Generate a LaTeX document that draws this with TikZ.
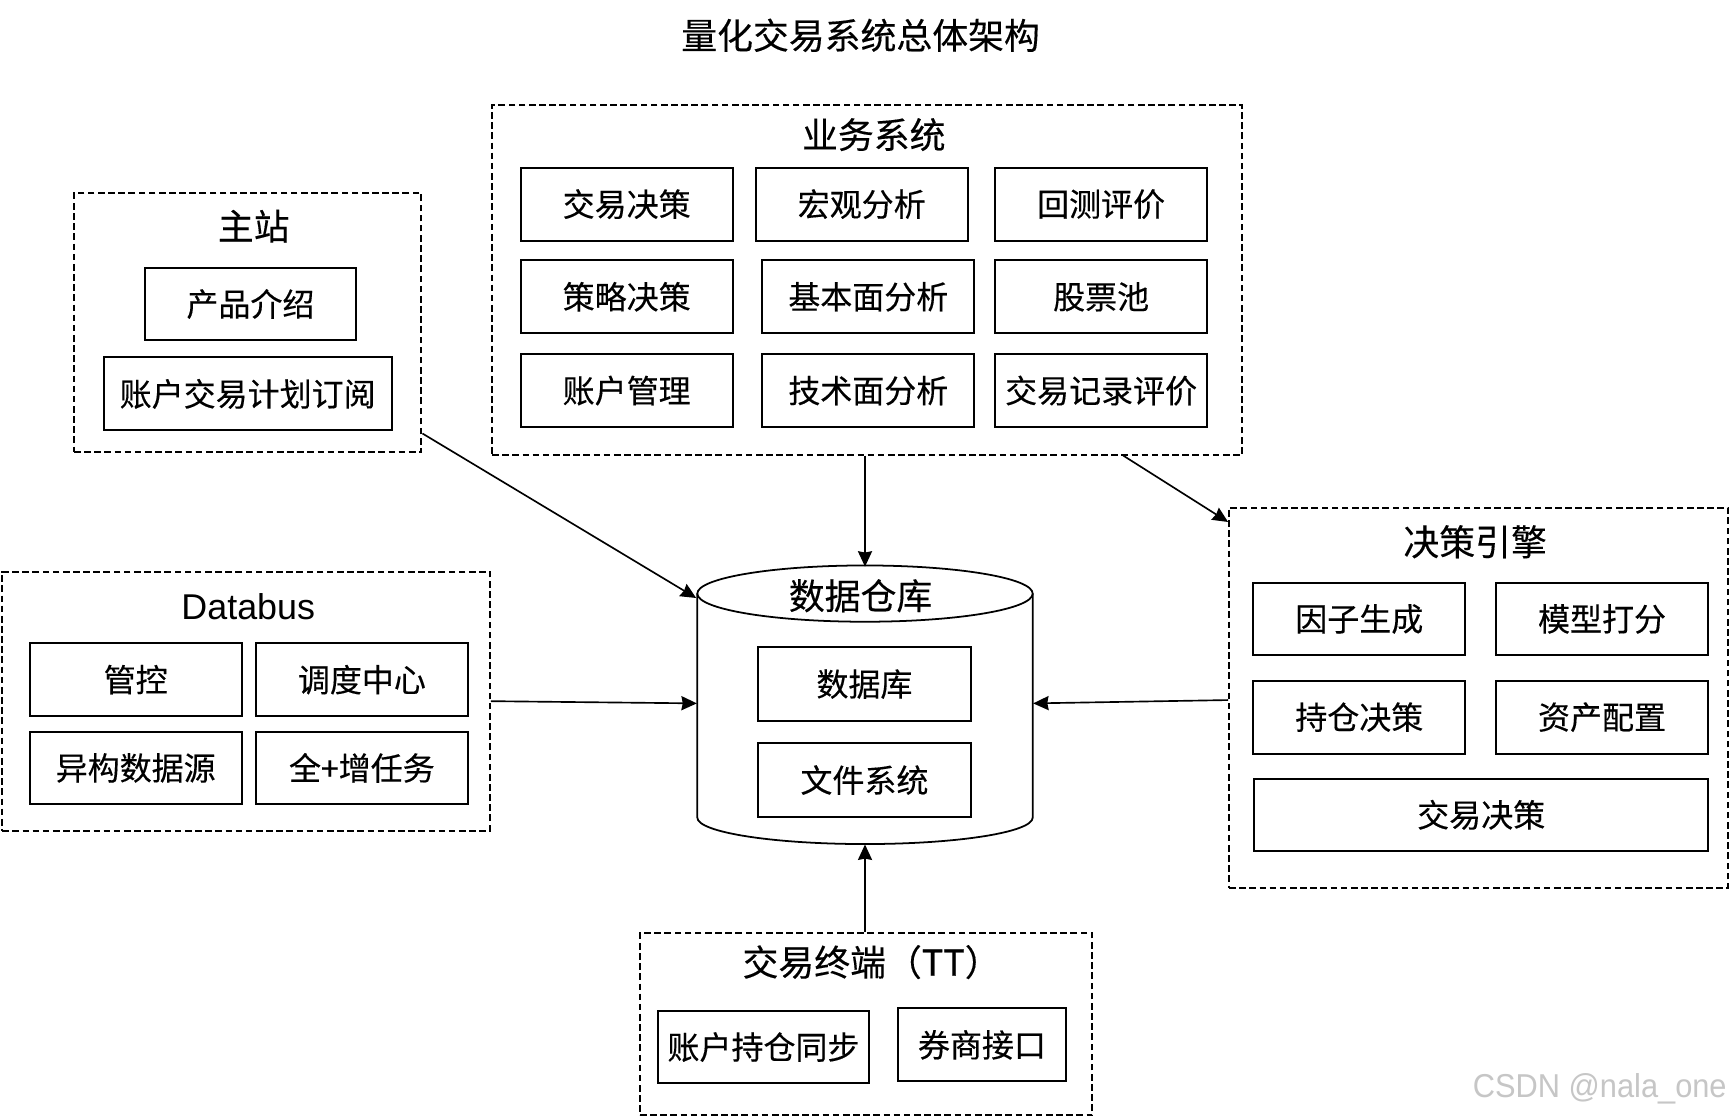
\documentclass[tikz,border=0pt]{standalone}
\usepackage{fontspec}
\setmainfont{Noto Sans CJK SC}[FakeBold=0.3]
\newfontfamily\latinfont{Liberation Sans}
\usetikzlibrary{arrows.meta,calc}

\begin{document}
\begin{tikzpicture}[x=0.5pt,y=-0.5pt,
  box/.style={draw, line width=0.9pt, inner sep=0pt, minimum width=96pt, minimum height=33pt,
              font=\fontsize{14.5}{16}\selectfont},
  group/.style={draw, line width=0.9pt, dash pattern=on 3pt off 1.6pt, inner sep=0pt},
  head/.style={font=\fontsize{16.25}{18}\selectfont, inner sep=0pt},
  link/.style={line width=0.75pt, -{Stealth[length=7pt,width=6.4pt,inset=0.6pt]}},
]
\fill[white] (0,0) rectangle (1568,1013);
\useasboundingbox (0,0) rectangle (1568,1013);

% title
\node[head] (title) at (780,32) {量化交易系统总体架构};

% main site
\node[group, minimum width=157.5pt, minimum height=117.5pt] (g1) at (224.5,292.5) {};
\node[head] (g1t) at (230,205) {主站};
\node[box] (p1) at (227,275.5) {产品介绍};
\node[box, minimum width=130.5pt] (p2) at (224.5,357) {账户交易计划订阅};

% business system
\node[group, minimum width=340pt, minimum height=158.5pt] (g2) at (786,253.5) {};
\node[head] (g2t) at (792,122) {业务系统};
\node[box] (b11) at (568,185) {交易决策};
\node[box] (b12) at (781,185) {宏观分析};
\node[box] (b13) at (998,185) {回测评价};
\node[box] (b21) at (568,269) {策略决策};
\node[box] (b22) at (787,269) {基本面分析};
\node[box] (b23) at (998,269) {股票池};
\node[box] (b31) at (568,354) {账户管理};
\node[box] (b32) at (787,354) {技术面分析};
\node[box] (b33) at (998,354) {交易记录评价};

% databus
\node[group, minimum width=221pt, minimum height=117.5pt] (g3) at (223,635.5) {};
\node[head, font=\latinfont\fontsize{16.25}{18}\selectfont] (g3t) at (225,550) {Databus};
\node[box] (d1) at (123,616) {管控};
\node[box] (d2) at (328,616) {调度中心};
\node[box] (d3) at (123,696) {异构数据源};
\node[box] (d4) at (328,696) {全+增任务};

% data warehouse cylinder
\node[minimum width=152pt, minimum height=125.5pt, inner sep=0pt] (dw) at (784,639.5) {};
\draw[line width=0.8pt] (632,538) -- (632,741)
  arc[start angle=180, end angle=360, x radius=76pt, y radius=12pt] -- (936,538);
\draw[line width=0.8pt] (784,538) ellipse [x radius=76pt, y radius=12.75pt];
\node[head] (dwt) at (780,540) {数据仓库};
\node[box, minimum width=96.5pt, minimum height=33.5pt] (w1) at (783.5,620) {数据库};
\node[box, minimum width=96.5pt, minimum height=33.5pt] (w2) at (783.5,707) {文件系统};
\coordinate (dwtl) at (631,542);

% decision engine
\node[group, minimum width=226pt, minimum height=172.5pt] (g5) at (1340,632.5) {};
\node[head] (g5t) at (1337,491) {决策引擎};
\node[box] (e1) at (1232,561) {因子生成};
\node[box] (e2) at (1452,561) {模型打分};
\node[box] (e3) at (1232,650) {持仓决策};
\node[box] (e4) at (1452,650) {资产配置};
\node[box, minimum width=205.5pt, minimum height=32.5pt] (e5) at (1342.5,738.5) {交易决策};

% trading terminal
\node[group, minimum width=205pt, minimum height=82.5pt] (g4) at (785,928.5) {};
\node[head] (g4t) at (790,872) {交易终端（TT）};
\node[box] (t1) at (692,949) {账户持仓同步};
\node[box, minimum width=76pt] (t2) at (890,947) {券商接口};

% connectors
\draw[link] ($(g1.south east)+(0,-18)$) -- (dwtl);
\draw[link] (dw.north |- g2.south) -- (dw.north);
\draw[link] ($(g2.south)+(232,0)$) -- ($(g5.north west)+(0,14)$);
\draw[link] (g3.east) -- ($(dw.west)+(0,-2)$);
\draw[link] ($(g5.west)+(0,2)$) -- ($(dw.east)+(0,-2)$);
\draw[link] (dw.south |- g4.north) -- (dw.south);

% watermark
\node[text=gray!45, font=\latinfont\fontsize{15}{17}\selectfont, xscale=0.93, inner sep=0pt] (wm) at (1450,987) {CSDN @nala\_one};
\end{tikzpicture}
\end{document}
